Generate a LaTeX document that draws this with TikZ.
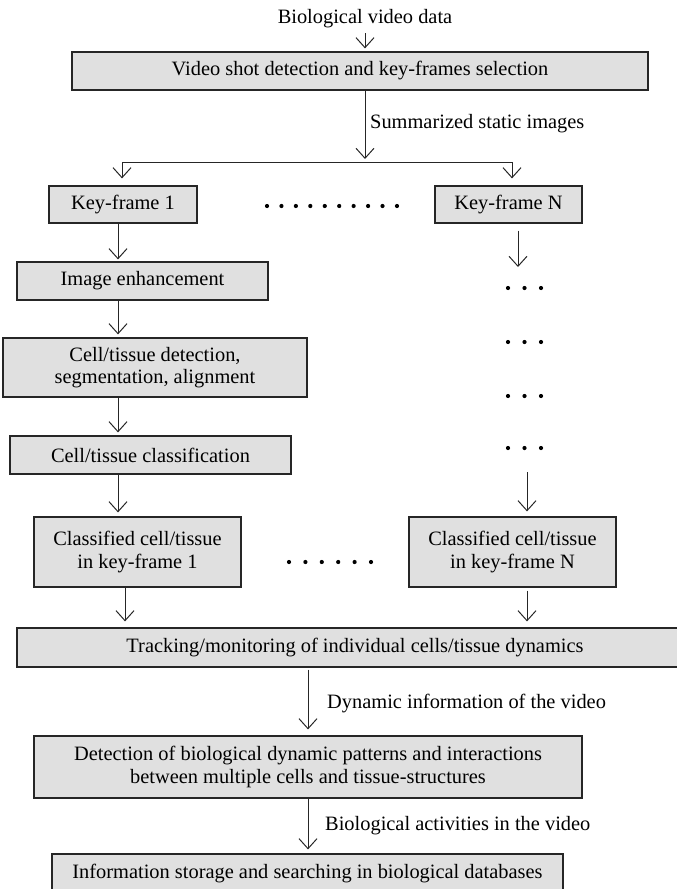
\documentclass[tikz,border=0pt]{standalone}
\usepackage{fontspec}
\setmainfont{Liberation Serif}
\usetikzlibrary{arrows.meta}
\begin{document}
\begin{tikzpicture}[x=1pt,y=-1pt,
  box/.style={draw=black!85, line width=1.2pt, fill=black!12, inner sep=0pt,
    align=center, font=\fontsize{20.4}{22.5}\selectfont},
  lbl/.style={inner sep=0pt, font=\fontsize{20.4}{22.5}\selectfont},
  wire/.style={draw=black!85, line width=1pt},
  flow/.style={wire, -{Straight Barb[length=10pt,width=18pt,line width=1pt]}},
  dot/.style={fill=black},
  ]
\useasboundingbox (0,0) rectangle (677,889);
\clip (0,0) rectangle (677,889);

% stages
\node[lbl] (src) at (365,19) {Biological video data};
\node[box, minimum width=576, minimum height=38] (vid) at (360,71)
  {Video shot detection and key-frames selection};
\node[box, minimum width=148, minimum height=37] (kf1) at (123,204.5) {Key-frame 1};
\node[box, minimum width=147, minimum height=37] (kfN) at (508.5,204.5) {Key-frame N};
\node[box, minimum width=251, minimum height=38] (img) at (142.5,281) {Image enhancement};
\node[box, minimum width=304, minimum height=59] (det) at (155,367.5)
  {Cell/tissue detection,\\segmentation, alignment};
\node[box, minimum width=281, minimum height=38] (cls) at (150.5,455) {Cell/tissue classification};
\node[box, minimum width=207, minimum height=70] (c1) at (137.5,552)
  {Classified cell/tissue\\in key-frame 1};
\node[box, minimum width=207, minimum height=70] (cN) at (512.5,552)
  {Classified cell/tissue\\in key-frame N};
\node[box, minimum width=683, minimum height=39] (trk) at (358.5,647.5)
  {\hspace*{-7pt}Tracking/monitoring of individual cells/tissue dynamics};
\node[box, minimum width=548, minimum height=62] (pat) at (308,767)
  {Detection of biological dynamic patterns and interactions\\between multiple cells and tissue-structures};
\node[box, minimum width=511, minimum height=39] (info) at (307.5,873.5)
  {Information storage and searching in biological databases};

% edge labels
\node[lbl, anchor=west] (l1) at (370,124) {Summarized static images};
\node[lbl, anchor=west] (l2) at (327,704) {Dynamic information of the video};
\node[lbl, anchor=west] (l3) at (325,826) {Biological activities in the video};

% helper coordinates
\coordinate (split) at (365,162);
\coordinate (bl) at (122,162);
\coordinate (br) at (512,162);
\coordinate (lc) at (118,0);
\coordinate (lc2) at (125,0);
\coordinate (rc) at (518,0);
\coordinate (rgapA) at (518,267);
\coordinate (rgapB) at (527,472);

% connectors
\draw[flow, shorten <=5pt, shorten >=3pt] (src.south) -- (vid.north -| src.south);
\draw[flow, shorten >=3pt] (vid.south -| split) -- (split);
\draw[wire] (bl) -- (br);
\draw[flow, shorten >=7pt] (bl) -- (kf1.north -| bl);
\draw[flow, shorten >=7pt] (br) -- (kfN.north -| br);

\draw[flow, shorten >=2pt] (kf1.south -| lc) -- (img.north -| lc);
\draw[flow, shorten >=3pt] (img.south -| lc) -- (det.north -| lc);
\draw[flow, shorten >=3pt] (det.south -| lc) -- (cls.north -| lc);
\draw[flow, shorten >=4pt] (cls.south -| lc) -- (c1.north -| lc);
\draw[flow, shorten >=6pt] (c1.south -| lc2) -- (trk.north -| lc2);

\draw[flow, shorten <=7pt] (kfN.south -| rc) -- (rgapA);
\draw[flow, shorten >=5pt] (rgapB) -- (cN.north -| rgapB);
\draw[flow, shorten <=3pt, shorten >=6pt] (cN.south -| rgapB) -- (trk.north -| rgapB);

\draw[flow, shorten <=2pt, shorten >=6pt] (trk.south -| pat.north) -- (pat.north);
\draw[flow, shorten >=4pt] (pat.south) -- (info.north -| pat.south);

% ellipses
\foreach \i in {0,...,9} \fill[dot] (267+14.44*\i,206) circle (2.1);
\foreach \i in {0,...,5} \fill[dot] (289+16.4*\i,562) circle (2.1);
\foreach \y in {288,342,396,448}
  \foreach \i in {0,1,2} \fill[dot] (508+16.5*\i,\y) circle (2.1);
\end{tikzpicture}
\end{document}
